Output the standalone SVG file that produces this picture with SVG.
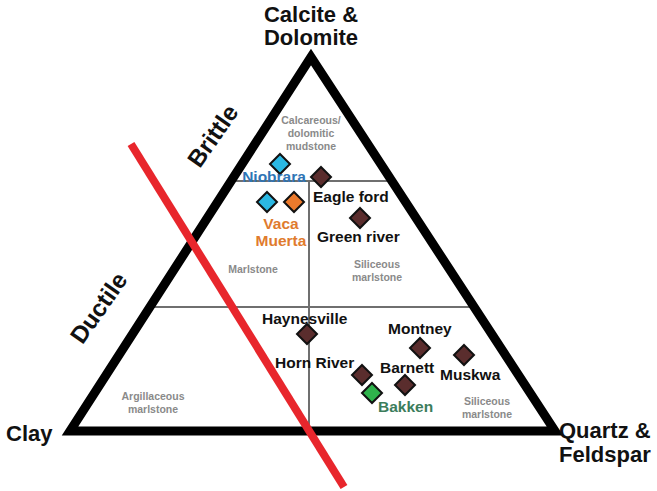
<svg xmlns="http://www.w3.org/2000/svg" width="657" height="491" viewBox="0 0 657 491">
<style>
.ax{font-family:"Liberation Sans",Arial,sans-serif;font-weight:bold;font-size:22px;fill:#111}
.rot{font-size:24px}
.zone{font-family:"Liberation Sans",Arial,sans-serif;font-weight:bold;font-size:10.5px;fill:#8a8a8a;text-anchor:middle}
.lbl{font-family:"Liberation Sans",Arial,sans-serif;font-weight:bold;font-size:15.5px;fill:#111}
.grid{stroke:#6f6f6f;stroke-width:2;fill:none}
.dm{stroke:#111;stroke-width:2}
.br{fill:#5a2d2d}
.cy{fill:#2bb8e3}
.or{fill:#ec7a2c}
.gr{fill:#2fb34c}
</style>
<defs>
<path id="d" d="M0,-10 L10,0 L0,10 L-10,0 Z"/>
</defs>
<rect width="657" height="491" fill="#fff"/>
<g id="grid">
<line class="grid" x1="227" y1="181" x2="396" y2="181"/>
<line class="grid" x1="150" y1="307" x2="473" y2="307"/>
<line class="grid" x1="309" y1="181" x2="309" y2="429"/>
</g>
<g id="triangle">
<polygon points="311,57 70,431 555,431" fill="none" stroke="#000" stroke-width="9" stroke-linejoin="miter"/>
</g>
<g id="zones">
<text class="zone" x="311" y="124">Calcareous/</text>
<text class="zone" x="311" y="137">dolomitic</text>
<text class="zone" x="311" y="150">mudstone</text>
<text class="zone" x="253" y="273">Marlstone</text>
<text class="zone" x="377" y="268">Siliceous</text>
<text class="zone" x="377" y="281">marlstone</text>
<text class="zone" x="153" y="400">Argillaceous</text>
<text class="zone" x="153" y="413">marlstone</text>
<text class="zone" x="487" y="405">Siliceous</text>
<text class="zone" x="487" y="418">marlstone</text>
</g>
<g id="axes">
<text class="ax" x="311" y="22" text-anchor="middle">Calcite &amp;</text>
<text class="ax" x="311" y="45" text-anchor="middle">Dolomite</text>
<text class="ax" x="6" y="441">Clay</text>
<text class="ax" x="559" y="438">Quartz &amp;</text>
<text class="ax" x="559" y="462">Feldspar</text>
<text class="ax rot" transform="translate(213,136) rotate(-55)" text-anchor="middle" dy="8">Brittle</text>
<text class="ax rot" transform="translate(99,308) rotate(-55)" text-anchor="middle" dy="8">Ductile</text>
</g>
<g id="cutoff">
<line x1="131" y1="144" x2="344" y2="487" stroke="#e8262c" stroke-width="8"/>
</g>
<g id="points">
<use href="#d" class="dm cy" x="280" y="164"/>
<use href="#d" class="dm br" x="321" y="177"/>
<use href="#d" class="dm cy" x="267" y="202"/>
<use href="#d" class="dm or" x="294" y="202"/>
<use href="#d" class="dm br" x="360" y="218"/>
<use href="#d" class="dm br" x="307" y="334"/>
<use href="#d" class="dm br" x="420" y="348"/>
<use href="#d" class="dm br" x="464" y="355"/>
<use href="#d" class="dm br" x="362" y="375"/>
<use href="#d" class="dm br" x="405" y="385"/>
<use href="#d" class="dm gr" x="372" y="393"/>
</g>
<g id="labels">
<text class="lbl" x="274" y="182" text-anchor="middle" style="fill:#2e74b5">Niobrara</text>
<text class="lbl" x="313" y="202">Eagle ford</text>
<text class="lbl" x="317" y="242">Green river</text>
<text class="lbl" x="281" y="229" text-anchor="middle" style="fill:#e07b2e">Vaca</text>
<text class="lbl" x="281" y="246" text-anchor="middle" style="fill:#e07b2e">Muerta</text>
<text class="lbl" x="262" y="324">Haynesville</text>
<text class="lbl" x="388" y="334">Montney</text>
<text class="lbl" x="275" y="368">Horn River</text>
<text class="lbl" x="380" y="373">Barnett</text>
<text class="lbl" x="440" y="380">Muskwa</text>
<text class="lbl" x="378" y="412" style="fill:#3c7d5c">Bakken</text>
</g>
</svg>
